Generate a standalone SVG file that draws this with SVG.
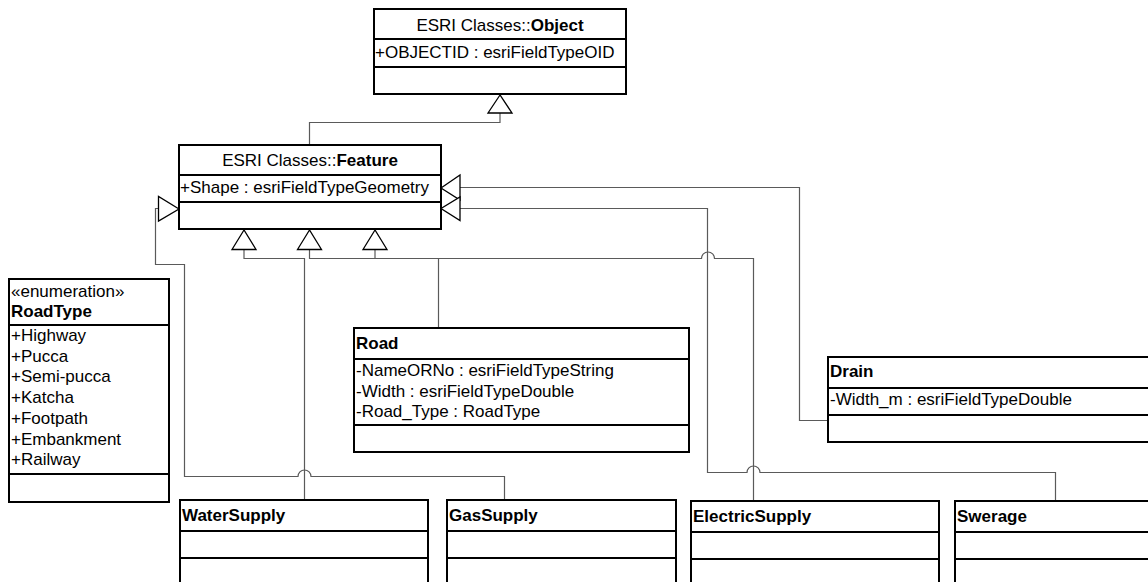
<svg xmlns="http://www.w3.org/2000/svg" width="1148" height="582" viewBox="0 0 1148 582">
  <style>
    .box { fill: #ffffff; stroke: #000000; stroke-width: 2; }
    .div { stroke: #000000; stroke-width: 2; }
    .t { font-family: "Liberation Sans", Arial, sans-serif; font-size: 17px; fill: #000000; }
    .b { font-weight: bold; }
    .c { text-anchor: middle; }
    .conn { fill: none; stroke: #5a5a5a; stroke-width: 1.2; }
    .gen { fill: #ffffff; stroke: #000000; stroke-width: 1.3; stroke-linejoin: miter; }
  </style>

  <rect width="1148" height="582" fill="#ffffff"/>

  <!-- generalization connectors -->
  <g id="connectors">
    <!-- Feature -> Object -->
    <path class="conn" d="M309.5,145 V122.5 H500 V113"/>
    <!-- WaterSupply -> Feature -->
    <path class="conn" d="M304.5,500 V258.5 H244 V249.5"/>
    <!-- Road / ElectricSupply -> Feature -->
    <path class="conn" d="M309.5,249.5 V258.5 H701.5 A6.5,6.5 0 0 1 714.5,258.5 H753.5 V501"/>
    <path class="conn" d="M375,249.5 V258.5"/>
    <path class="conn" d="M438.5,328 V258.5"/>
    <!-- GasSupply -> Feature -->
    <path class="conn" d="M504.5,500 V476.5 H311 A6.5,6.5 0 0 0 298,476.5 H184.5 V264.5 H155.5 V208.5 H158.5"/>
    <!-- Drain -> Feature -->
    <path class="conn" d="M828,420.5 H799.5 V187.5 H460"/>
    <!-- Swerage -> Feature -->
    <path class="conn" d="M1055.5,501 V472.5 H760 A6.5,6.5 0 0 0 747,472.5 H707.5 V208.5 H460"/>

    <!-- hollow triangle heads -->
    <polygon class="gen" points="500,95 488,113 512,113"/>
    <polygon class="gen" points="244,230 232,249.5 256,249.5"/>
    <polygon class="gen" points="309.5,230 297.5,249.5 321.5,249.5"/>
    <polygon class="gen" points="375,230 363,249.5 387,249.5"/>
    <polygon class="gen" points="179,209 158.5,196.5 158.5,221"/>
    <polygon class="gen" points="441,188 460,175 460,200"/>
    <polygon class="gen" points="441,208.5 460,197 460,220.5"/>
  </g>

  <!-- ESRI Classes::Object -->
  <g id="object">
    <rect class="box" x="374" y="9" width="252" height="85"/>
    <line class="div" x1="374" y1="39" x2="626" y2="39"/>
    <line class="div" x1="374" y1="67" x2="626" y2="67"/>
    <text class="t c" x="500" y="30.5">ESRI Classes::<tspan class="b">Object</tspan></text>
    <text class="t" x="375" y="57.5">+OBJECTID : esriFieldTypeOID</text>
  </g>

  <!-- ESRI Classes::Feature -->
  <g id="feature">
    <rect class="box" x="179" y="145" width="262" height="84"/>
    <line class="div" x1="179" y1="175" x2="441" y2="175"/>
    <line class="div" x1="179" y1="202" x2="441" y2="202"/>
    <text class="t c" x="310" y="166">ESRI Classes::<tspan class="b">Feature</tspan></text>
    <text class="t" x="180" y="193">+Shape : esriFieldTypeGeometry</text>
  </g>

  <!-- RoadType enumeration -->
  <g id="roadtype">
    <rect class="box" x="9" y="279" width="160" height="223"/>
    <line class="div" x1="9" y1="325" x2="169" y2="325"/>
    <line class="div" x1="9" y1="474" x2="169" y2="474"/>
    <text class="t" x="11" y="297">«enumeration»</text>
    <text class="t b" x="11" y="317">RoadType</text>
    <text class="t" x="11" y="341">+Highway</text>
    <text class="t" x="11" y="361.7">+Pucca</text>
    <text class="t" x="11" y="382.4">+Semi-pucca</text>
    <text class="t" x="11" y="403.1">+Katcha</text>
    <text class="t" x="11" y="423.8">+Footpath</text>
    <text class="t" x="11" y="444.5">+Embankment</text>
    <text class="t" x="11" y="465.2">+Railway</text>
  </g>

  <!-- Road -->
  <g id="road">
    <rect class="box" x="354" y="328" width="335" height="124"/>
    <line class="div" x1="354" y1="359" x2="689" y2="359"/>
    <line class="div" x1="354" y1="425" x2="689" y2="425"/>
    <text class="t b" x="356" y="348.5">Road</text>
    <text class="t" x="356" y="376">-NameORNo : esriFieldTypeString</text>
    <text class="t" x="356" y="396.7">-Width : esriFieldTypeDouble</text>
    <text class="t" x="356" y="417.4">-Road_Type : RoadType</text>
  </g>

  <!-- Drain -->
  <g id="drain">
    <rect class="box" x="828" y="357" width="340" height="85"/>
    <line class="div" x1="828" y1="388" x2="1168" y2="388"/>
    <line class="div" x1="828" y1="415" x2="1168" y2="415"/>
    <text class="t b" x="830" y="377">Drain</text>
    <text class="t" x="830" y="405">-Width_m : esriFieldTypeDouble</text>
  </g>

  <!-- WaterSupply -->
  <g id="watersupply">
    <rect class="box" x="180" y="500" width="248" height="100"/>
    <line class="div" x1="180" y1="531" x2="428" y2="531"/>
    <line class="div" x1="180" y1="558" x2="428" y2="558"/>
    <text class="t b" x="182" y="521">WaterSupply</text>
  </g>

  <!-- GasSupply -->
  <g id="gassupply">
    <rect class="box" x="447" y="500" width="229" height="100"/>
    <line class="div" x1="447" y1="531" x2="676" y2="531"/>
    <line class="div" x1="447" y1="558" x2="676" y2="558"/>
    <text class="t b" x="449" y="521">GasSupply</text>
  </g>

  <!-- ElectricSupply -->
  <g id="electricsupply">
    <rect class="box" x="691" y="501" width="248" height="100"/>
    <line class="div" x1="691" y1="532" x2="939" y2="532"/>
    <line class="div" x1="691" y1="559" x2="939" y2="559"/>
    <text class="t b" x="693" y="522">ElectricSupply</text>
  </g>

  <!-- Swerage -->
  <g id="swerage">
    <rect class="box" x="955" y="501" width="220" height="100"/>
    <line class="div" x1="955" y1="532" x2="1175" y2="532"/>
    <line class="div" x1="955" y1="559" x2="1175" y2="559"/>
    <text class="t b" x="957" y="522">Swerage</text>
  </g>
</svg>
